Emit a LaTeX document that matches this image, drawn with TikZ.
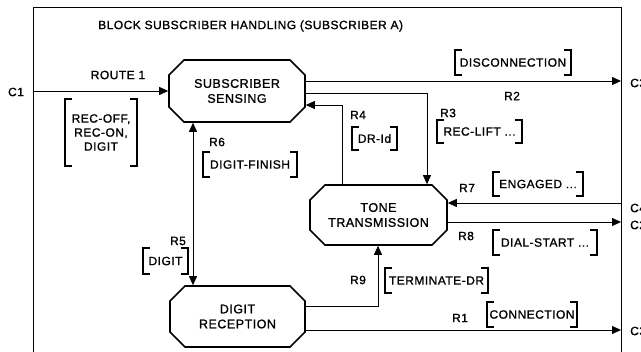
\documentclass[tikz,border=0pt]{standalone}
\usepackage{fontspec}
\setmainfont{Liberation Sans}[LetterSpace=4, BoldFont={Liberation Sans}, BoldFeatures={FakeBold=1.2}]
\usetikzlibrary{arrows.meta,shapes.misc}
\tikzset{
  txt/.style={font=\fontsize{12}{14}\selectfont\bfseries, inner sep=0pt},
  proc/.style={chamfered rectangle, chamfered rectangle xsep=7.5pt, chamfered rectangle ysep=7.5pt,
    draw, line width=1.6pt, align=center, inner sep=0pt, font=\fontsize{12.5}{15}\selectfont\bfseries},
  brk/.style={txt, align=center},
  brkline/.style={line width=1.6pt},
  conn/.style={line width=0.8pt, -{Triangle[length=9pt,width=8pt]}},
  frame/.style={line width=0.8pt},
}
\newcommand\bracketbox[1]{%
  \draw[brkline] ([xshift=7pt]#1.north west) -| (#1.south west) -- ++(7pt,0)
                 ([xshift=-7pt]#1.north east) -| (#1.south east) -- ++(-7pt,0);}
\begin{document}
\begin{tikzpicture}[x=1pt,y=-1pt]
\useasboundingbox (0,0) rectangle (641,352);
% frame
\coordinate (fbl) at (33,352);
\coordinate (ftl) at (33,7);
\coordinate (ftr) at (621,7);
\coordinate (fbr) at (621,352);
\draw[frame] (fbl) -- (ftl) -- (ftr) -- (fbr);
\node[txt, anchor=west] (title) at (98,26) {BLOCK SUBSCRIBER HANDLING (SUBSCRIBER A)};

% processes
\node[proc, minimum width=136pt, minimum height=62pt] (sens) at (237,91) {SUBSCRIBER\\SENSING};
\node[proc, minimum width=137pt, minimum height=60pt] (tone) at (378.5,215) {TONE\\TRANSMISSION};
\node[proc, minimum width=135pt, minimum height=61pt] (digr) at (237.5,316.5) {DIGIT\\RECEPTION};

% channel endpoints
\coordinate (c1) at (33,91);
\coordinate (c3a) at (621,81);
\coordinate (c4) at (621,203);
\coordinate (c2) at (621,222);
\coordinate (c3b) at (621,330);
\node[txt] (c1l) at (16,92) {C1};
\node[txt, anchor=west] (c3al) at (630,83) {C3};
\node[txt, anchor=west] (c4l) at (630,208) {C4};
\node[txt, anchor=west] (c2l) at (630,225) {C2};
\node[txt, anchor=west] (c3bl) at (630,331) {C3};

% bend points
\coordinate (b1) at (427,93);
\coordinate (b2) at (342,105);
\coordinate (b3) at (193,0);
\coordinate (b4) at (378,306);

% connectors
\draw[conn] (c1) -- (sens.west);
\draw[conn] (sens.east |- c3a) -- (c3a);
\draw[conn] (sens.east |- b1) -| (tone.north -| b1);
\draw[conn] (tone.north -| b2) |- (sens.east |- b2);
\draw[line width=0.8pt, {Triangle[length=9pt,width=8pt]}-{Triangle[length=9pt,width=8pt]}] (sens.south -| b3) -- (digr.north -| b3);
\draw[conn] (digr.east |- b4) -| (tone.south -| b4);
\draw[conn] (digr.east |- c3b) -- (c3b);
\draw[conn] (c4) -- (tone.east |- c4);
\draw[conn] (tone.east |- c2) -- (c2);

% route labels
\node[txt] (route1) at (118,75) {ROUTE 1};
\node[txt] (r1) at (460,318) {R1};
\node[txt] (r2) at (512,96) {R2};
\node[txt] (r3) at (448,113) {R3};
\node[txt] (r4) at (358,115) {R4};
\node[txt] (r5) at (178,241) {R5};
\node[txt] (r6) at (217,142) {R6};
\node[txt] (r7) at (467,188) {R7};
\node[txt] (r8) at (466,236) {R8};
\node[txt] (r9) at (358,280) {R9};

% signal lists
\node[brk, minimum width=72pt, minimum height=67pt] (srecoff) at (101,132.5) {REC-OFF,\\REC-ON,\\DIGIT};
\node[brk, minimum width=116pt, minimum height=25pt] (sdisc) at (513,62.5) {DISCONNECTION};
\node[brk, minimum width=94pt, minimum height=25pt] (sdfin) at (250,164.5) {DIGIT-FINISH};
\node[brk, minimum width=45pt, minimum height=23pt] (sdrid) at (374.5,138.5) {DR-Id};
\node[brk, minimum width=85pt, minimum height=23pt] (sreclift) at (479.5,131.5) {REC-LIFT ...};
\node[brk, minimum width=90pt, minimum height=24pt] (seng) at (538,184) {ENGAGED ...};
\node[brk, minimum width=104pt, minimum height=25pt] (sdial) at (545,242.5) {DIAL-START ...};
\node[brk, minimum width=103pt, minimum height=25pt] (sterm) at (436.5,280.5) {TERMINATE-DR};
\node[brk, minimum width=90pt, minimum height=25pt] (sconn) at (532,314.5) {CONNECTION};
\node[brk, minimum width=45pt, minimum height=26pt] (sdigit) at (165.5,261) {DIGIT};
\bracketbox{srecoff}
\bracketbox{sdisc}
\bracketbox{sdfin}
\bracketbox{sdrid}
\bracketbox{sreclift}
\bracketbox{seng}
\bracketbox{sdial}
\bracketbox{sterm}
\bracketbox{sconn}
\bracketbox{sdigit}
\end{tikzpicture}
\end{document}
